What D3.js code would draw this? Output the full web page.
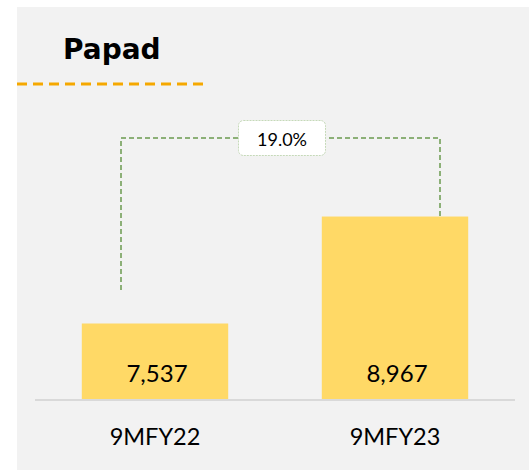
<!DOCTYPE html>
<html><head><meta charset="utf-8">
<script src="https://cdn.jsdelivr.net/npm/d3@7"></script>
<style>html,body{margin:0;padding:0;background:#fff;}svg{display:block;}</style>
</head><body>
<svg id="c" width="529" height="470"></svg>
<script>
const title = "Papad";
const categories = ["9MFY22", "9MFY23"];
const values = [7537, 8967];
const growthLabel = "19.0%";

const svg = d3.select("#c");
svg.append("rect").attr("x",17).attr("y",7).attr("width",512).attr("height",463).attr("fill","#f2f2f2");

svg.append("text").attr("x",63).attr("y",58.5).text(title)
  .attr("font-family","'DejaVu Sans', sans-serif").attr("font-weight","bold")
  .attr("font-size",28).attr("fill","#000");
svg.append("line").attr("x1",17).attr("x2",203).attr("y1",84).attr("y2",84)
  .attr("stroke","#f5a800").attr("stroke-width",3).attr("stroke-dasharray","10,6");

const x = d3.scaleBand().domain(categories).range([35,515]).paddingInner(0.39).paddingOuter(0.195);
const y = d3.scaleLinear().domain([6521, 10000]).range([399.5, 399.5-3479*0.0748]);

svg.selectAll("rect.bar").data(values).join("rect").attr("class","bar")
  .attr("x",(d,i)=>x(categories[i])).attr("width",x.bandwidth())
  .attr("y",d=>y(d)).attr("height",d=>y(6521)-y(d)).attr("fill","#ffd966");

svg.append("line").attr("x1",35).attr("x2",515).attr("y1",400).attr("y2",400)
  .attr("stroke","#d9d9d9").attr("stroke-width",2);

svg.selectAll("text.val").data(values).join("text").attr("class","val")
  .attr("x",(d,i)=>x(categories[i])+x.bandwidth()/2+2).attr("y",382)
  .attr("text-anchor","middle").attr("font-family","Lato, sans-serif").attr("font-size",24)
  .attr("fill","#000").text(d=>d3.format(",")(d));

svg.selectAll("text.cat").data(categories).join("text").attr("class","cat")
  .attr("x",d=>x(d)+x.bandwidth()/2).attr("y",445)
  .attr("text-anchor","middle").attr("font-family","Lato, sans-serif").attr("font-size",23.5)
  .attr("fill","#000").text(d=>d);

// growth bracket
const xl = 121, xr = 440, yTop = 138;
const g = svg.append("g");
g.append("path").attr("d",`M${xl},${290}V${yTop}H${xr}V${y(values[1])}`)
  .attr("fill","none").attr("stroke","#6b9a4f").attr("stroke-width",1.5).attr("stroke-dasharray","5,3");
g.append("rect").attr("x",238.5).attr("y",120.5).attr("width",87).attr("height",35).attr("rx",5)
  .attr("fill","#fff").attr("stroke","#c5d9b8").attr("stroke-width",1).attr("stroke-dasharray","2,1");
g.append("text").attr("x",282).attr("y",145.5).attr("text-anchor","middle")
  .attr("font-family","Lato, sans-serif").attr("font-size",18).attr("fill","#000").text(growthLabel);
</script>
</body></html>
